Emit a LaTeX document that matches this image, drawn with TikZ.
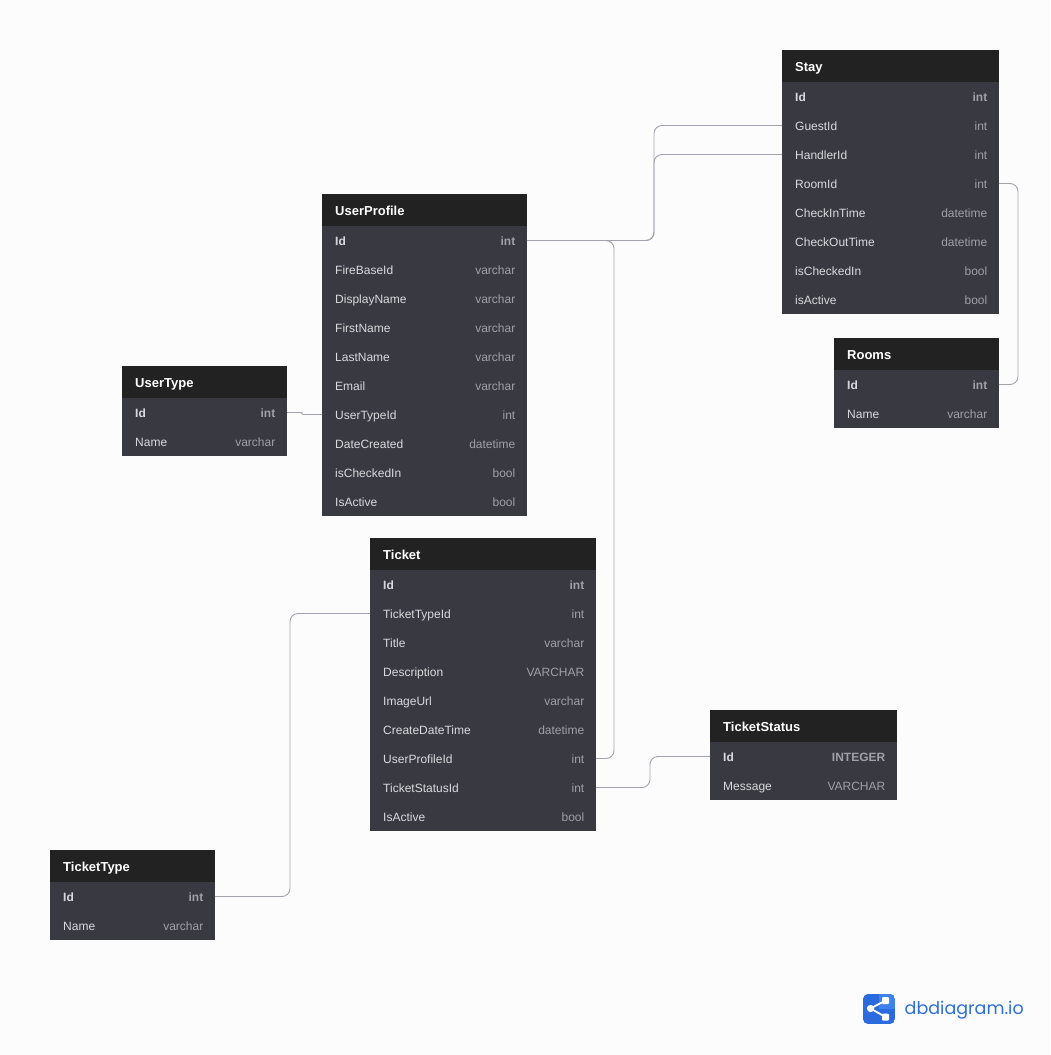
\documentclass[tikz,border=0pt]{standalone}
\usepackage{fontspec}
\setmainfont{Liberation Sans}
\newfontfamily\logofont{Poppins}
\usetikzlibrary{calc}
\definecolor{pagebg}{HTML}{FCFCFD}
\definecolor{headbg}{HTML}{222222}
\definecolor{rowbg}{HTML}{383941}
\definecolor{rowname}{HTML}{DADADE}
\definecolor{rowtype}{HTML}{A0A0A6}
\definecolor{relcolor}{HTML}{A3A3AF}
\definecolor{logoblue}{HTML}{2B6BDD}
\definecolor{logolight}{HTML}{3D82EA}
\definecolor{logotext}{HTML}{2F6FD8}
\tikzset{
	tablehead/.style={fill=headbg,minimum height=32pt,inner sep=0pt,outer sep=0pt},
	tablerow/.style={fill=rowbg,minimum height=29pt,inner sep=0pt,outer sep=0pt},
	titletext/.style={text=white,font=\fontsize{13}{15}\selectfont\bfseries,inner sep=0pt,text height=9.5pt,text depth=2.5pt},
	nametext/.style={text=rowname,font=\fontsize{12}{14}\selectfont,inner sep=0pt,text height=8.5pt,text depth=2.5pt},
	typetext/.style={text=rowtype,font=\fontsize{12}{14}\selectfont,inner sep=0pt,text height=8.5pt,text depth=2.5pt},
	relation/.style={draw=relcolor,line width=0.9pt,rounded corners=8pt}
}
% Syntax: {name}{left}{top}{width}{title}{row/type,...}, rows are called name-1, name-2, ...
\newcommand{\drawtable}[6]{
	\node[tablehead,minimum width=#4pt,anchor=north west] (#1-head) at (#2,#3) {};
	\node[titletext,anchor=west] (#1-title) at ($(#1-head.west)+(13,2)$) {#5};
	\foreach \rowname/\rowtype [count=\i] in {#6} {
		\ifnum\i=1 \def\rowfont{\bfseries}\else\def\rowfont{}\fi
		\node[tablerow,minimum width=#4pt,anchor=north west] (#1-\i) at ({#2},{#3+32+(\i-1)*29}) {};
		\node[nametext,anchor=west] (#1-\i-name) at ($(#1-\i.west)+(13,2)$) {\rowfont\rowname};
		\node[typetext,anchor=east] (#1-\i-type) at ($(#1-\i.east)+(-11.5,2)$) {\rowfont\rowtype};
	}
}
\begin{document}
\begin{tikzpicture}[x=1pt,y=-1pt]
	\useasboundingbox[fill=pagebg] (0,0) rectangle (1050,1055);
	\drawtable{Stay}{782}{50}{217}{Stay}{Id/int,GuestId/int,HandlerId/int,RoomId/int,CheckInTime/datetime,CheckOutTime/datetime,isCheckedIn/bool,isActive/bool}
	\drawtable{UserProfile}{322}{194}{205}{UserProfile}{Id/int,FireBaseId/varchar,DisplayName/varchar,FirstName/varchar,LastName/varchar,Email/varchar,UserTypeId/int,DateCreated/datetime,isCheckedIn/bool,IsActive/bool}
	\drawtable{UserType}{122}{366}{165}{UserType}{Id/int,Name/varchar}
	\drawtable{Rooms}{834}{338}{165}{Rooms}{Id/int,Name/varchar}
	\drawtable{Ticket}{370}{538}{226}{Ticket}{Id/int,TicketTypeId/int,Title/varchar,Description/VARCHAR,ImageUrl/varchar,CreateDateTime/datetime,UserProfileId/int,TicketStatusId/int,IsActive/bool}
	\drawtable{TicketStatus}{710}{710}{187}{TicketStatus}{Id/INTEGER,Message/VARCHAR}
	\drawtable{TicketType}{50}{850}{165}{TicketType}{Id/int,Name/varchar}
	% bends of the relations
	\coordinate (stayBend) at (654,200);
	\coordinate (ticketBend) at (614,500);
	\coordinate (roomBend) at (1018,280);
	\coordinate (typeBend) at (302,413);
	\coordinate (ticketTypeBend) at (290,750);
	\coordinate (statusBend) at (650,770);
	\draw[relation] (UserProfile-1.east) -| (stayBend) |- (Stay-2.west);
	\draw[relation] (UserProfile-1.east) -| (stayBend) |- (Stay-3.west);
	\draw[relation] (UserProfile-1.east) -| (ticketBend) |- (Ticket-7.east);
	\draw[relation] (Stay-4.east) -| (roomBend) |- (Rooms-1.east);
	\draw[relation,rounded corners=1pt] (UserType-1.east) -| (typeBend) |- (UserProfile-7.west);
	\draw[relation] (TicketType-1.east) -| (ticketTypeBend) |- (Ticket-2.west);
	\draw[relation] (Ticket-8.east) -| (statusBend) |- (TicketStatus-1.west);
	% logo
	\begin{scope}
		\clip[rounded corners=5pt] (863,994) rectangle (895,1024);
		\fill[logoblue] (863,994) rectangle (895,1024);
		\fill[logolight] (879,994) rectangle (895,1009);
	\end{scope}
	\draw[white,line width=1.8pt] (885.5,1000.5) -- (870.5,1008.5) -- (885.5,1017);
	\fill[white] (870.5,1008.5) circle (3.6);
	\fill[white,rounded corners=1pt] (882,997) rectangle (889,1004);
	\fill[white,rounded corners=1pt] (882,1013.5) rectangle (889,1020.5);
	\node[text=logotext,font=\logofont\fontsize{17.5}{20}\selectfont,inner sep=0pt,anchor=west] (logoText) at (904.5,1010.5) {dbdiagram.io};
\end{tikzpicture}
\end{document}
